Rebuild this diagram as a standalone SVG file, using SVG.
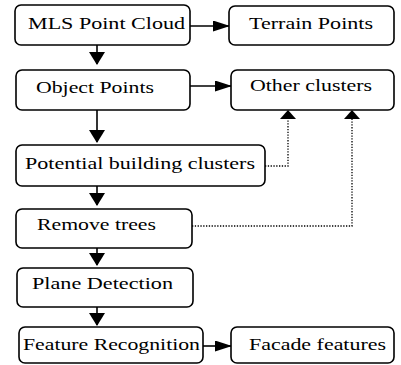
<svg xmlns="http://www.w3.org/2000/svg" width="401" height="365" viewBox="0 0 401 365">
<style>
.box{fill:#fff;stroke:#000;stroke-width:1.6}
.t{font-family:"Liberation Serif","Times New Roman",serif;font-size:17px;fill:#000}
.ln{fill:none;stroke:#000;stroke-width:1.6}
.dot{fill:none;stroke:#000;stroke-width:1.3;stroke-dasharray:1.3 1.5}
</style>
<defs>
<marker id="ah" markerUnits="userSpaceOnUse" markerWidth="13" markerHeight="16" viewBox="0 0 13 16" refX="12" refY="8" orient="auto">
<path d="M0,0 L13,8 L0,16 Z" fill="#000"/>
</marker>
<marker id="ahh" markerUnits="userSpaceOnUse" markerWidth="17" markerHeight="11" viewBox="0 0 17 11" refX="16" refY="5.5" orient="auto">
<path d="M0,0 L17,5.5 L0,11 Z" fill="#000"/>
</marker>
</defs>
<g id="connectors">
<line class="ln" x1="97" y1="45" x2="97" y2="64" marker-end="url(#ah)"/>
<line class="ln" x1="190" y1="26" x2="229" y2="26" marker-end="url(#ahh)"/>
<line class="ln" x1="190" y1="86" x2="231" y2="86" marker-end="url(#ahh)"/>
<line class="ln" x1="97" y1="110" x2="97" y2="142" marker-end="url(#ah)"/>
<line class="ln" x1="97" y1="186" x2="97" y2="205" marker-end="url(#ah)"/>
<line class="ln" x1="97" y1="248" x2="97" y2="265" marker-end="url(#ah)"/>
<line class="ln" x1="97" y1="307" x2="97" y2="325" marker-end="url(#ah)"/>
<line class="ln" x1="203" y1="346" x2="231" y2="346" marker-end="url(#ahh)"/>
<polyline class="dot" points="265,166 288,166 288,118"/>
<polyline class="dot" points="192,226 352,226 352,118"/>
<path d="M280,119 L288,110 L296,119 Z"/>
<path d="M344,119 L352,110 L360,119 Z"/>
</g>
<g id="mls"><rect class="box" x="15" y="5" width="175" height="40" rx="6"/><text class="t" x="28" y="29" textLength="157" lengthAdjust="spacingAndGlyphs">MLS Point Cloud</text></g>
<g id="terrain"><rect class="box" x="229" y="6" width="165" height="39" rx="6"/><text class="t" x="249" y="29" textLength="124" lengthAdjust="spacingAndGlyphs">Terrain Points</text></g>
<g id="object"><rect class="box" x="16" y="70" width="174" height="40" rx="6"/><text class="t" x="36" y="93" textLength="118" lengthAdjust="spacingAndGlyphs">Object Points</text></g>
<g id="other"><rect class="box" x="231" y="70" width="163" height="40" rx="6"/><text class="t" x="250" y="91" textLength="122" lengthAdjust="spacingAndGlyphs">Other clusters</text></g>
<g id="potential"><rect class="box" x="16" y="145" width="249" height="41" rx="6"/><text class="t" x="25" y="169" textLength="230" lengthAdjust="spacingAndGlyphs">Potential building clusters</text></g>
<g id="remove"><rect class="box" x="16" y="209" width="176" height="39" rx="6"/><text class="t" x="37" y="230" textLength="119" lengthAdjust="spacingAndGlyphs">Remove trees</text></g>
<g id="plane"><rect class="box" x="17" y="268" width="176" height="39" rx="6"/><text class="t" x="32" y="289" textLength="141" lengthAdjust="spacingAndGlyphs">Plane Detection</text></g>
<g id="feature"><rect class="box" x="19" y="327" width="184" height="36" rx="6"/><text class="t" x="23" y="350" textLength="177" lengthAdjust="spacingAndGlyphs">Feature Recognition</text></g>
<g id="facade"><rect class="box" x="231" y="327" width="163" height="36" rx="6"/><text class="t" x="249" y="350" textLength="137" lengthAdjust="spacingAndGlyphs">Facade features</text></g>
</svg>
